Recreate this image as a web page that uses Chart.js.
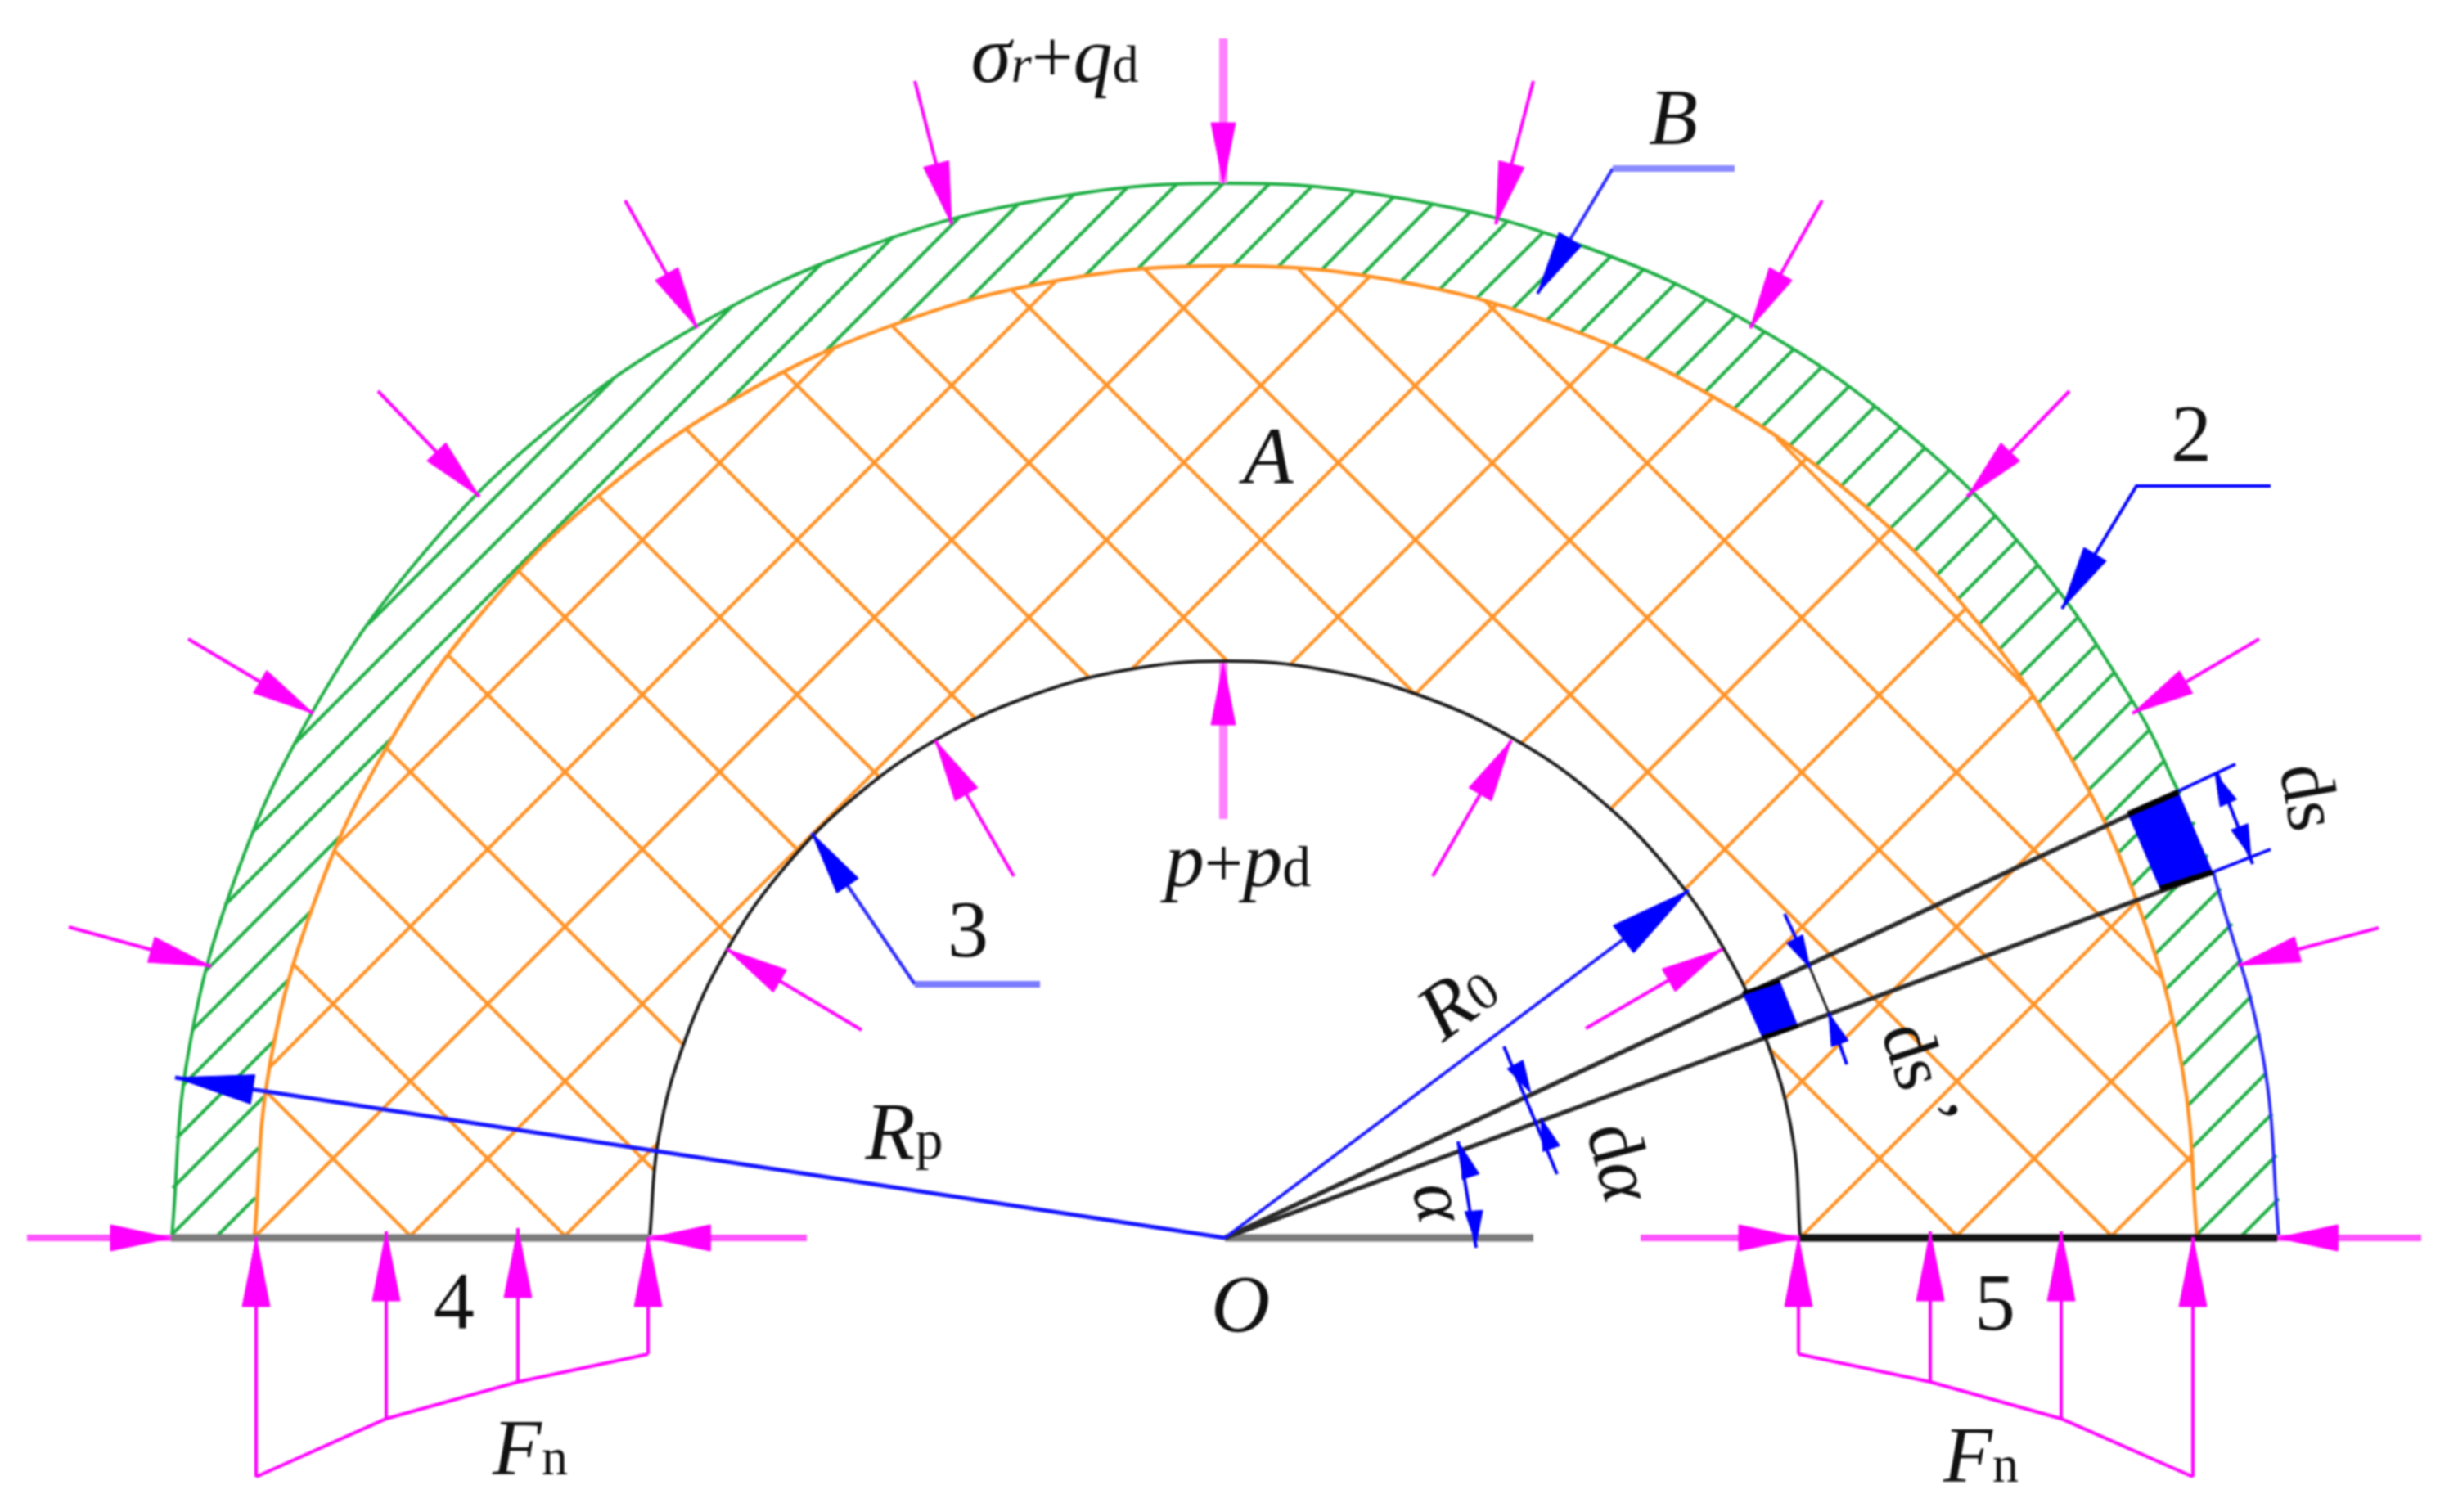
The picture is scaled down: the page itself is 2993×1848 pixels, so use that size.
<!DOCTYPE html>
<html>
<head>
<meta charset="utf-8">
<style>
  html, body { margin: 0; padding: 0; background: #fff; }
  canvas { display: block; filter: blur(0.9px); }
</style>
<script src="https://cdn.jsdelivr.net/npm/chart.js@4/dist/chart.umd.min.js"></script>
</head>
<body>
<canvas id="sectionCanvas" width="2993" height="1848"></canvas>
<script>
// Arcs as [x, y]
const outerArc = [[210,1512],[230,1288],[288,1072],[383,868],[511,684],[670,525],[854,397],[1058,302],[1274,244],[1498,224],[1722,244],[1938,302],[2142,397],[2326,525],[2485,684],[2613,868],[2662,967]];
const outerArcBlue = [[2705,1066],[2765,1288],[2785,1512]];
const middleArc = [[311,1512],[329,1306],[383,1106],[470,918],[589,749],[735,603],[904,484],[1092,397],[1292,343],[1498,325],[1704,343],[1904,397],[2092,484],[2261,603],[2407,749],[2526,918],[2613,1106],[2667,1306],[2685,1512]];
const innerArc = [[794,1512],[805,1390],[837,1272],[889,1160],[959,1060],[1046,973],[1146,903],[1258,851],[1376,819],[1498,808],[1620,819],[1738,851],[1850,903],[1950,973],[2037,1060],[2107,1160],[2159,1272],[2191,1390],[2200,1512]];

// Cross hatch in the orange zone: x1, y1, x2, y2
const crossUp = [[412,1033,1019,426],[329,1305,1291,343],[311,1512,1498,325],[500,1512,1674,338],[689,1512,805,1396],[1383,818,1829,372],[1576,813,1968,422],[1730,848,2094,485],[1859,909,2208,560],[1968,989,2310,647],[2058,1088,2402,744],[2130,1205,2484,851],[2180,1344,2554,970],[2201,1512,2611,1102],[2390,1512,2655,1247],[2579,1512,2680,1411]];
const crossDown = [[2171,535,2475,839],[1816,369,2641,1194],[1587,329,2681,1423],[1399,329,2582,1512],[1236,354,1729,848],[2162,1281,2393,1512],[1090,398,1501,809],[958,455,1332,829],[839,525,1193,879],[731,606,1076,951],[634,698,977,1041],[548,801,896,1149],[473,915,836,1278],[409,1040,800,1431],[359,1179,692,1512],[325,1334,503,1512]];

// Single hatch in the green zone: x1, y1, x2, y2
const greenHatch = [[450,763,749,464],[359,910,896,373],[309,1017,1003,323],[275,1106,479,902],[888,493,1092,289],[252,1186,417,1021],[1007,431,1172,266],[235,1259,379,1115],[1101,393,1245,249],[223,1327,353,1197],[1183,367,1313,237],[216,1391,336,1271],[1257,350,1377,230],[211,1452,323,1340],[1326,337,1438,225],[210,1509,316,1403],[1389,330,1495,224],[264,1512,312,1464],[1450,326,1551,225],[1507,325,1603,228],[1561,327,1655,234],[1614,331,1704,240],[1664,337,1751,249],[1712,344,1797,259],[1759,354,1842,271],[1804,365,1886,284],[1848,378,1928,298],[1890,392,1969,313],[1931,407,2008,330],[1971,423,2047,347],[2010,441,2085,366],[2047,460,2122,385],[2084,479,2157,405],[2119,500,2192,427],[2153,522,2226,449],[2187,545,2259,473],[2219,569,2291,497],[2250,594,2322,522],[2281,620,2352,548],[2310,646,2382,575],[2339,674,2410,603],[2367,703,2438,631],[2393,732,2464,661],[2419,763,2490,691],[2443,794,2515,722],[2467,827,2540,754],[2490,860,2563,787],[2512,895,2585,821],[2533,930,2606,856],[2552,966,2627,892],[2571,1004,2646,929],[2588,1043,2665,967],[2605,1083,2682,1005],[2620,1124,2698,1045],[2634,1166,2714,1086],[2646,1210,2728,1129],[2657,1256,2740,1172],[2667,1302,2752,1217],[2674,1351,2762,1263],[2680,1402,2770,1311],[2684,1454,2777,1361],[2682,1512,2782,1412],[2738,1512,2785,1465]];

// Load arrows: tail x, tail y, tip x, tip y
const topLoad = [[1495,47,1495,224]];
const outerLoads = [[1118,99,1163,274],[764,245,852,401],[462,478,586,607],[230,781,383,872],[84,1133,258,1181],[1874,99,1828,274],[2227,245,2139,401],[2529,478,2404,607],[2761,781,2606,872],[2907,1134,2735,1180]];
const innerLoads = [[1239,1071,1143,905],[1053,1259,888,1160],[1751,1071,1847,905],[1938,1257,2105,1160]];
const innerTopLoad = [[1495,1001,1495,810]];
const sideLoads = [[33,1513,209,1513],[986,1513,794,1513],[2005,1513,2199,1513],[2959,1513,2783,1513]];
const leftContact = [[313,1805,313,1512],[472,1734,472,1505],[633,1689,633,1501],[792,1655,792,1512]];
const rightContact = [[2198,1655,2198,1512],[2359,1689,2359,1505],[2519,1734,2519,1505],[2680,1805,2680,1512]];
const leftLoadCurve = [[313,1805],[472,1734],[633,1689],[792,1655]];
const rightLoadCurve = [[2198,1655],[2359,1689],[2519,1734],[2680,1805]];

// Leaders and dimensions
const leaderB = [[1971,206],[1879,359]];
const leaderBShelf = [[2120,206],[1971,206]];
const leader2 = [[2775,594],[2611,594],[2520,744]];
const leader3 = [[1118,1203],[992,1018]];
const leader3Shelf = [[1271,1203],[1118,1203]];
const radiusRp = [[1497,1513],[214,1317]];
const radiusR0 = [[1497,1513],[2064,1088]];
const radialTop = [[1497,1513],[2662,968]];
const radialLow = [[1497,1513],[2704,1066]];
const bigElement = [[2601,995],[2662,968],[2704,1066],[2640,1086]];
const smallElement = [[2130,1214],[2175,1199],[2197,1254],[2154,1268]];
const blueThin = [[2662,967,2732,934],[2704,1066,2775,1038],[2709,943,2753,1056],[2181,1117,2212,1183],[2235,1238,2257,1301],[1838,1279,1903,1435],[1782,1395,1804,1525]];
const blackThin = [[2212,1183,2235,1238]];
// small dimension heads: base x, base y, tip x, tip y
const dimHeads = [[2724,983,2707,945],[2735,1005,2751,1048],[2193,1147,2212,1183],[2248,1274,2235,1238],[1855,1307,1871,1336],[1895,1401,1883,1366],[1797,1437,1785,1400],[1801,1478,1804,1520]];
const baseLeft = [[209,1513],[794,1513]];
const baseCentre = [[1497,1513],[1874,1513]];
const baseRight = [[2199,1513],[2783,1513]];

const SERIF = '"Liberation Serif", serif';
const labels = [
  { x: 1289, y: 100, runs: [["σ", "italic", 100], ["r", "italic", 64], ["+", "", 90], ["q", "italic", 96], ["d", "", 64]] },
  { x: 2045, y: 176, runs: [["B", "italic", 98]] },
  { x: 1550, y: 591, runs: [["A", "italic", 100]] },
  { x: 2678, y: 563, runs: [["2", "", 100]] },
  { x: 1183, y: 1169, runs: [["3", "", 100]] },
  { x: 555, y: 1623, runs: [["4", "", 100]] },
  { x: 2438, y: 1625, runs: [["5", "", 100]] },
  { x: 1516, y: 1627, runs: [["O", "italic", 100]] },
  { x: 648, y: 1802, runs: [["F", "italic", 98], ["n", "", 64]] },
  { x: 2421, y: 1811, runs: [["F", "italic", 98], ["n", "", 64]] },
  { x: 1105, y: 1416, runs: [["R", "italic", 100], ["p", "", 68]] },
  { x: 1513, y: 1083, runs: [["p", "italic", 96], ["+", "", 84], ["p", "italic", 96], ["d", "", 70]] },
  { x: 1800, y: 1247, rot: -37, runs: [["R", "italic", 98], ["0", "", 64]] },
  { x: 2793, y: 979, rot: 80, runs: [["ds", "", 92]] },
  { x: 2319, y: 1324, rot: 72, runs: [["ds ʼ", "", 90]] },
  { x: 1951, y: 1428, rot: 75, runs: [["d", "", 94], ["α", "italic", 94]] },
  { x: 1731, y: 1475, rot: 78, runs: [["α", "italic", 92]] },
];

// Plain line through a list of [x, y]
function polyline(pts, color, width, tension) {
  return {
    data: pts.map(p => ({ x: p[0], y: p[1] })),
    showLine: true,
    borderColor: color,
    borderWidth: width,
    tension: tension || 0,
    pointRadius: 0,
    fill: false,
  };
}

function segments(list, color, width) {
  return list.map(s => polyline([[s[0], s[1]], [s[2], s[3]]], color, width));
}

function polygon(pts, color) {
  return {
    data: pts.concat([pts[0]]).map(p => ({ x: p[0], y: p[1] })),
    showLine: true,
    borderColor: color,
    borderWidth: 1,
    backgroundColor: color,
    pointRadius: 0,
    tension: 0,
    fill: "shape",
  };
}

// Triangle head with its tip at the end of the segment
function head(s, len, half, color) {
  const dx = s[2] - s[0], dy = s[3] - s[1];
  const d = Math.hypot(dx, dy);
  const ux = dx / d, uy = dy / d;
  const bx = s[2] - ux * len, by = s[3] - uy * len;
  return polygon([[s[2], s[3]], [bx - uy * half, by + ux * half], [bx + uy * half, by - ux * half]], color);
}

function arrows(list, len, half, color, width, tailColor) {
  return segments(list, tailColor || color, width).concat(list.map(s => head(s, len, half, color)));
}

const MAGENTA = "#ff00ff", BLUE = "#0000ff", ORANGE = "#ff9226", GREEN = "#1fae45", BLACK = "#1c1c1c";

// first pushed is lowest
const layers = [
  ...segments(greenHatch, GREEN, 4),
  ...segments(crossUp, ORANGE, 4),
  ...segments(crossDown, ORANGE, 4),
  polyline(outerArc, GREEN, 4, 0.4),
  polyline(outerArcBlue, "#2a2aff", 4, 0.4),
  polyline(middleArc, ORANGE, 4.5, 0.4),
  polyline(innerArc, BLACK, 4, 0.4),
  polyline(baseLeft, "#7c7c7c", 9),
  polyline(baseCentre, "#7c7c7c", 9),
  polyline(baseRight, "#141414", 9),
  polyline(radialTop, "#2a2a2a", 5.5),
  polyline(radialLow, "#2a2a2a", 5.5),
  polygon(bigElement, BLUE),
  polyline(bigElement.slice(0, 2), "#000", 7),
  polyline(bigElement.slice(2, 4), "#000", 7),
  polygon(smallElement, BLUE),
  polyline(smallElement.slice(0, 2), "#000", 5),
  polyline(smallElement.slice(2, 4), "#000", 5),
  ...segments(blueThin, BLUE, 4),
  ...segments(blackThin, BLACK, 3),
  ...dimHeads.map(s => head(s, 40, 11, BLUE)),
  polyline(radiusRp, "#1616ff", 5),
  head([1497, 1513, 214, 1317], 96, 18, BLUE),
  polyline(radiusR0, "#1616ff", 4),
  head([1497, 1513, 2064, 1088], 100, 21, BLUE),
  polyline(leaderB, "#2a2aff", 4),
  polyline(leaderBShelf, "#8a8aff", 8),
  head([1971, 206, 1879, 359], 78, 16, BLUE),
  polyline(leader2, BLUE, 4),
  head([2611, 594, 2520, 744], 78, 16, BLUE),
  polyline(leader3, "#2a2aff", 4),
  polyline(leader3Shelf, "#7a7aff", 8),
  head([1118, 1203, 992, 1018], 78, 16, BLUE),
  ...arrows(topLoad, 74, 15, MAGENTA, 10, "#ff80ff"),
  ...arrows(outerLoads, 76, 16, MAGENTA, 4),
  ...arrows(innerLoads, 76, 16, MAGENTA, 4),
  ...arrows(innerTopLoad, 76, 15, MAGENTA, 10, "#ff80ff"),
  ...arrows(sideLoads, 74, 16, MAGENTA, 8, "#ff55ff"),
  ...arrows(leftContact, 85, 17, MAGENTA, 4),
  ...arrows(rightContact, 85, 17, MAGENTA, 4),
  polyline(leftLoadCurve, MAGENTA, 4),
  polyline(rightLoadCurve, MAGENTA, 4),
];

// Text runs through the same scales as the marks
const labelPlugin = {
  id: "labelPlugin",
  afterDatasetsDraw(chart) {
    const ctx = chart.ctx;
    ctx.save();
    ctx.fillStyle = "#111";
    ctx.textBaseline = "alphabetic";
    ctx.textAlign = "left";
    labels.forEach(l => {
      const fontOf = r => `${r[1]} ${r[2]}px ${SERIF}`.trim();
      let total = 0;
      l.runs.forEach(r => { ctx.font = fontOf(r); total += ctx.measureText(r[0]).width; });
      ctx.save();
      ctx.translate(chart.scales.x.getPixelForValue(l.x), chart.scales.y.getPixelForValue(l.y));
      ctx.rotate((l.rot || 0) * Math.PI / 180);
      let cx = -total / 2;
      l.runs.forEach(r => {
        ctx.font = fontOf(r);
        ctx.fillText(r[0], cx, 0);
        cx += ctx.measureText(r[0]).width;
      });
      ctx.restore();
    });
    ctx.restore();
  },
};

const sectionChart = new Chart(document.getElementById("sectionCanvas"), {
  type: "scatter",
  // the library paints the first dataset last
  data: { datasets: layers.slice().reverse() },
  options: {
    responsive: false,
    animation: false,
    devicePixelRatio: 1,
    layout: { padding: 0 },
    scales: {
      x: { type: "linear", display: false, min: 0, max: 2993 },
      y: { type: "linear", display: false, min: 0, max: 1848, reverse: true },
    },
    plugins: { legend: { display: false }, tooltip: { enabled: false } },
  },
  plugins: [labelPlugin],
});
</script>
</body>
</html>
